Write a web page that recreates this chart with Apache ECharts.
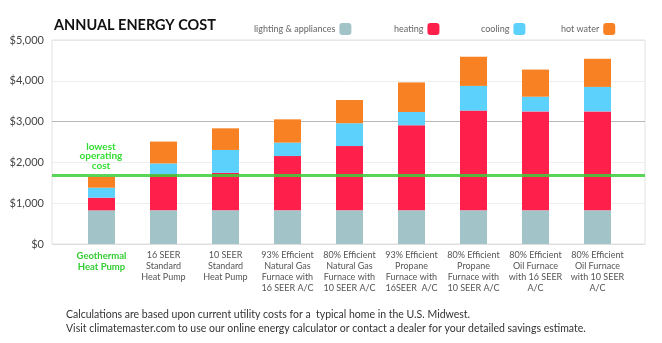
<!DOCTYPE html>
<html><head><meta charset="utf-8">
<script src="https://cdn.jsdelivr.net/npm/echarts@6/dist/echarts.min.js"></script>
<style>html,body{margin:0;padding:0;background:#fff}#c{width:662px;height:343px}</style>
</head><body><div id="c"></div>
<script>
const categories = ['Geothermal\nHeat Pump', '16 SEER\nStandard\nHeat Pump', '10 SEER\nStandard\nHeat Pump',
  '93% Efficient\nNatural Gas\nFurnace with\n16 SEER A/C', '80% Efficient\nNatural Gas\nFurnace with\n10 SEER A/C',
  '93% Efficient\nPropane\nFurnace with\n16SEER  A/C', '80% Efficient\nPropane\nFurnace with\n10 SEER A/C',
  '80% Efficient\nOil Furnace\nwith 16 SEER\nA/C', '80% Efficient\nOil Furnace\nwith 10 SEER\nA/C'];
const lighting = [825, 825, 825, 825, 825, 825, 825, 825, 825];
const heating  = [310, 885, 920, 1330, 1575, 2085, 2445, 2425, 2425];
const cooling  = [245, 265, 560, 330, 560, 325, 605, 360, 600];
const hotWater = [270, 535, 530, 570, 570, 725, 715, 665, 690];
const lowestCost = 1680;

const FONT = 'Lato';
const colors = {lighting:'#a2c3c8', heating:'#ff1f4b', cooling:'#5bd1fb', hot:'#f78123'};
const names = ['lighting & appliances', 'heating', 'cooling', 'hot water'];
const legendLefts = [254, 394, 481, 561];

const chart = echarts.init(document.getElementById('c'));
const mkBar = (name, data, color) => ({
  name, type:'bar', stack:'total', data, xAxisIndex:1, yAxisIndex:1,
  barWidth:27, itemStyle:{color}, z:2, emphasis:{disabled:true}
});
chart.setOption({
  animation:false,
  textStyle:{fontFamily:FONT},
  title:{text:'ANNUAL ENERGY COST', left:54, top:18, padding:0,
    textStyle:{fontFamily:FONT, fontSize:14.5, fontWeight:'bold', color:'#111'}},
  legend: names.map((n,i)=>({data:[n], left:legendLefts[i], top:23, align:'right', padding:0,
    itemWidth:12, itemHeight:12, itemGap:0, selectedMode:false,
    textStyle:{fontFamily:FONT, fontSize:9, color:'#666', padding:[0,-1,0,0]}})),
  grid:[
    {left:52, right:17, top:40, bottom:99, show:true, borderColor:'#e2e2e2', borderWidth:1},
    {left:70.5, right:33.5, top:40, bottom:99}
  ],
  xAxis:[
    {gridIndex:0, type:'value', min:0, max:1, show:false},
    {gridIndex:1, type:'category', data:categories,
      axisLine:{show:false}, axisTick:{show:false},
      axisLabel:{interval:0, margin:6, fontFamily:FONT, fontSize:9, lineHeight:11, color:'#555',
        formatter:(v,i)=> i===0 ? v.split('\n').map(s=>'{g|'+s+'}').join('\n') : v,
        rich:{g:{fontFamily:FONT, fontSize:9.5, lineHeight:11, fontWeight:'bold', color:'#33cc33'}}}}
  ],
  yAxis:[
    {gridIndex:0, type:'value', min:0, max:5000, interval:1000,
      axisLine:{show:false}, axisTick:{show:false},
      axisLabel:{margin:8, fontFamily:FONT, fontSize:11, color:'#444',
        formatter:v=>'$'+v.toLocaleString('en-US')},
      splitLine:{lineStyle:{color:['#dddddd','#eeeeee','#eeeeee','#b8b8b8','#eeeeee','#e6e6e6'], width:1}}},
    {gridIndex:1, type:'value', min:0, max:5000, show:false}
  ],
  series:[
    mkBar(names[0], lighting, colors.lighting),
    mkBar(names[1], heating, colors.heating),
    mkBar(names[2], cooling, colors.cooling),
    mkBar(names[3], hotWater, colors.hot),
    {type:'line', xAxisIndex:0, yAxisIndex:0, data:[[0,lowestCost],[1,lowestCost]],
      symbol:'none', silent:true, z:10,
      lineStyle:{color:'#3ccf3c', width:3, opacity:0.85}}
  ],
  graphic:[
    {type:'text', x:101, y:142, style:{text:'lowest\noperating\ncost', align:'center',
      font:'bold 10px '+FONT, fill:'#33dd33', lineHeight:9.5}},
    {type:'text', x:66, y:308, style:{text:'Calculations are based upon current utility costs for a  typical home in the U.S. Midwest.\nVisit climatemaster.com to use our online energy calculator or contact a dealer for your detailed savings estimate.',
      font:'10.5px '+FONT, fill:'#333', lineHeight:13.5}}
  ]
});
</script></body></html>
